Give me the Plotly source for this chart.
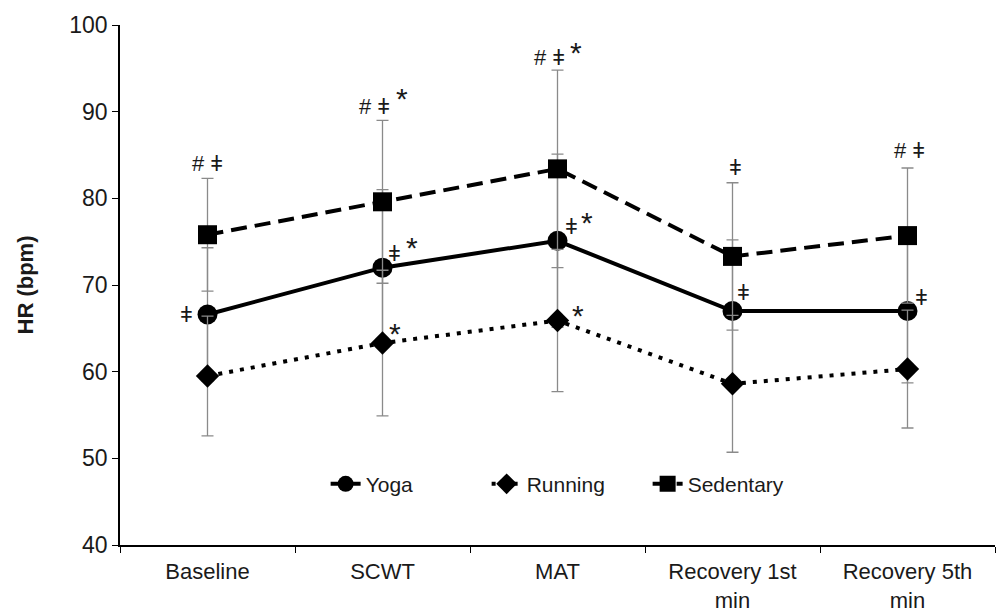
import plotly.graph_objects as go

# Heart rate (bpm) per phase, mean and SD for each group
categories = ["Baseline", "SCWT", "MAT", "Recovery 1st<br>min", "Recovery 5th<br>min"]

yoga_mean = [66.6, 72.0, 75.1, 67.0, 67.0]
yoga_sd = [7.7, 9.0, 10.0, 8.2, 8.3]

running_mean = [59.5, 63.3, 65.9, 58.6, 60.3]
running_sd = [6.9, 8.4, 8.2, 7.9, 6.8]

sedentary_mean = [75.8, 79.6, 83.4, 73.3, 75.7]
sedentary_sd = [6.5, 9.4, 11.4, 8.5, 7.8]

FONT = "Arial, 'Liberation Sans', sans-serif"
INK = "#1a1a1a"
ERR = "#8a8a8a"
BAR = "\u01c2"  # double-barred sign used for group contrasts

series = {
    "Yoga": dict(mean=yoga_mean, sd=yoga_sd, dash="solid", symbol="circle", size=20),
    "Running": dict(mean=running_mean, sd=running_sd, dash="4px,7px", symbol="diamond", size=18),
    "Sedentary": dict(mean=sedentary_mean, sd=sedentary_sd, dash="16px,8px", symbol="square", size=19),
}

fig = go.Figure()
for name, s in series.items():
    fig.add_trace(go.Scatter(
        x=categories, y=s["mean"], name=name, mode="lines+markers",
        line=dict(color="black", width=4, dash=s["dash"]),
        marker=dict(symbol=s["symbol"], size=s["size"], color="black"),
        error_y=dict(type="data", array=s["sd"], visible=True,
                     color=ERR, thickness=1.3, width=6),
    ))

# Significance markers: (category index, group, attach to "top" of SD bar or "mean",
# text, x offset px, y offset px, font size)
marks = [
    (0, "Sedentary", "top", "# " + BAR, 0, 15, 22),
    (0, "Yoga", "mean", BAR, -21, 0, 22),
    (1, "Sedentary", "top", "# " + BAR, -8, 14, 22),
    (1, "Sedentary", "top", "*", 19, 22, 30),
    (1, "Yoga", "mean", BAR, 12, 14, 22),
    (1, "Yoga", "mean", "*", 29, 20, 30),
    (1, "Running", "mean", "*", 12, 10, 30),
    (2, "Sedentary", "top", "# " + BAR, -8, 13, 22),
    (2, "Sedentary", "top", "*", 18, 18, 30),
    (2, "Yoga", "mean", BAR, 14, 14, 22),
    (2, "Yoga", "mean", "*", 29, 18, 30),
    (2, "Running", "mean", "*", 20, 5, 30),
    (3, "Sedentary", "top", BAR, 3, 15, 22),
    (3, "Yoga", "mean", BAR, 11, 19, 22),
    (4, "Sedentary", "top", "# " + BAR, 2, 18, 22),
    (4, "Yoga", "mean", BAR, 14, 14, 22),
]
for i, grp, where, txt, dx, dy, fs in marks:
    s = series[grp]
    yv = s["mean"][i] + (s["sd"][i] if where == "top" else 0)
    fig.add_annotation(
        x=categories[i], y=yv, xref="x", yref="y", text=txt, showarrow=False,
        xshift=dx, yshift=dy, xanchor="center", yanchor="middle",
        font=dict(family=FONT, size=fs, color=INK),
    )

fig.update_layout(
    width=1003, height=612,
    margin=dict(l=120, r=8, t=25, b=67, autoexpand=False),
    paper_bgcolor="white", plot_bgcolor="white",
    font=dict(family=FONT, size=22, color=INK),
    showlegend=True,
    legend=dict(
        orientation="h", x=0.235, y=0.117, xanchor="left", yanchor="middle",
        font=dict(family=FONT, size=21, color=INK),
        entrywidth=116, bgcolor="rgba(0,0,0,0)",
    ),
    xaxis=dict(
        type="category", range=[-0.5, 4.5], tickson="boundaries",
        ticks="outside", ticklen=6, tickcolor="black", tickwidth=1.3,
        showline=True, linecolor="black", linewidth=1.5,
        showgrid=False, zeroline=False, ticklabelstandoff=6,
        automargin=False,
        tickfont=dict(family=FONT, size=22, color=INK),
    ),
    yaxis=dict(
        range=[40, 100], dtick=10, tick0=40,
        ticks="outside", ticklen=6, tickcolor="black", tickwidth=1.3,
        showline=True, linecolor="black", linewidth=1.5,
        showgrid=False, zeroline=False, automargin=False,
        tickfont=dict(family=FONT, size=23, color=INK),
        title=dict(text="<b>HR (bpm)</b>", standoff=30,
                   font=dict(family=FONT, size=22, color=INK)),
    ),
)

fig.write_html("out.html")
